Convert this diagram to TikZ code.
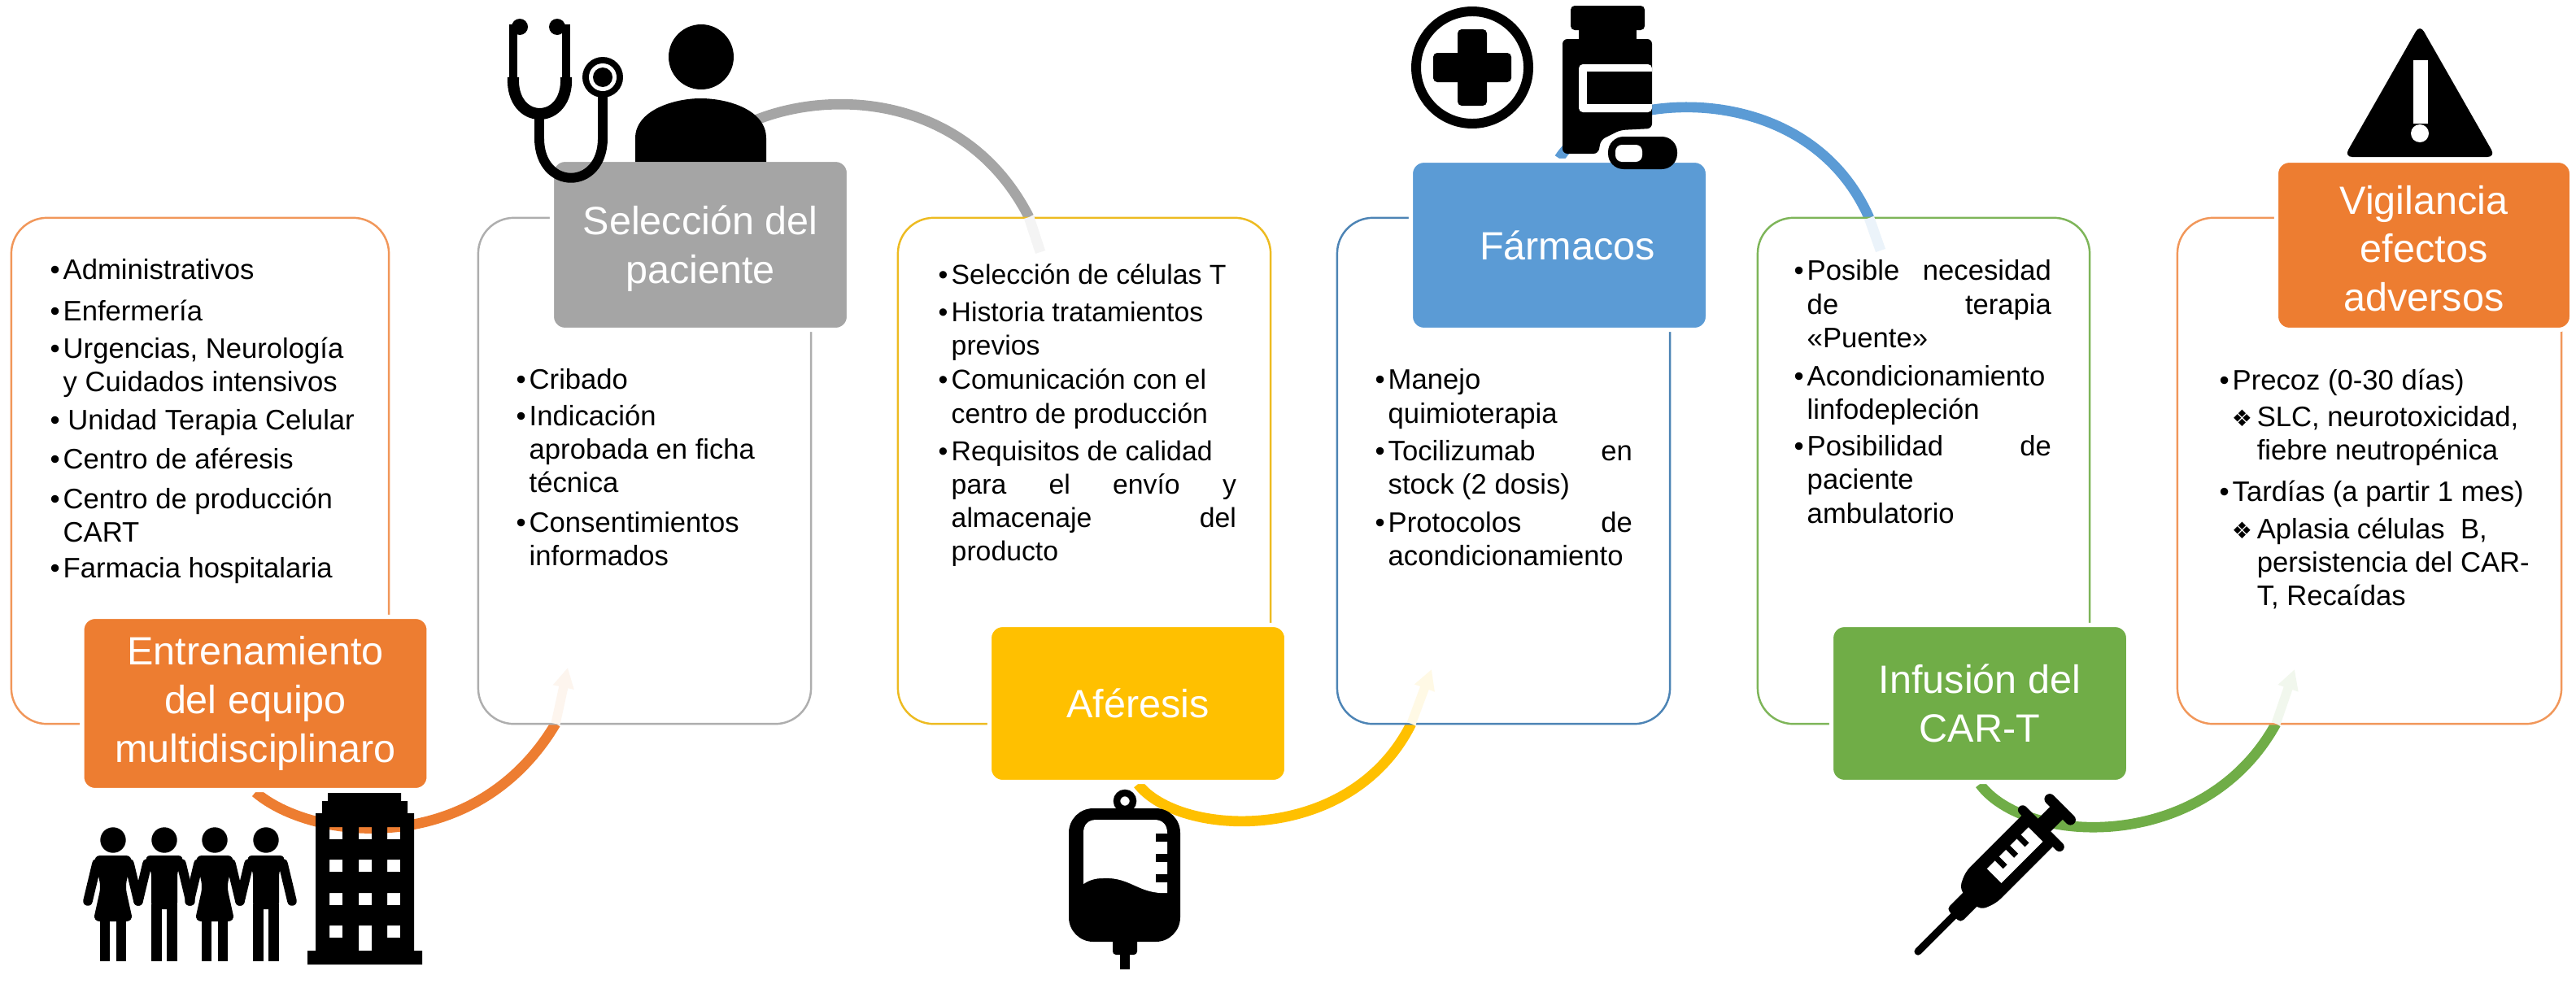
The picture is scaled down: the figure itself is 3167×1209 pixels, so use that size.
\documentclass[tikz,border=0pt]{standalone}
\usepackage{fontspec}
\setmainfont{Liberation Sans}
\newfontfamily\dejavu{DejaVu Sans}
\usetikzlibrary{arrows.meta,positioning,calc,backgrounds}
\definecolor{Orange}{HTML}{ED7D31}
\definecolor{Silver}{HTML}{A5A5A5}
\definecolor{Amber}{HTML}{FFC000}
\definecolor{Sky}{HTML}{5B9BD5}
\definecolor{Leaf}{HTML}{70AD47}
\newcommand{\bul}{\makebox[0.16cm][l]{\textbullet}}
\newcommand{\ind}{\hspace*{0.16cm}}
\newcommand{\dia}{\hspace*{0.15cm}\makebox[0.31cm][l]{\dejavu\fontsize{8}{8}\selectfont ❖}}
\newcommand{\dind}{\hspace*{0.46cm}}

\begin{document}
\begin{tikzpicture}[
  x=0.01cm, y=-0.01cm,
  card/.style={draw, rounded corners=0.44cm, line width=0.7pt, fill=white, inner sep=0pt,
               minimum height=6.22cm},
  head/.style={draw=white, line width=1.5pt, rounded corners=0.16cm, text=white, inner sep=0pt,
               minimum width=3.65cm, align=center, font=\fontsize{13.8}{17}\selectfont},
  items/.style={anchor=north west, inner sep=0pt, align=left, font=\fontsize{9.85}{11.75}\selectfont},
  arc/.style={line width=3.6pt},
  arctail/.style={line width=3.6pt},
  arctip/.style={-{Triangle[width=7pt,length=7pt]}, line width=3.2pt},
  icon/.style={black}
]
  \useasboundingbox (0,0) rectangle (3167,1209);

  \node[head, minimum width=4.26cm, minimum height=2.13cm, fill=Orange] (train) at (314,865)
    {Entrenamiento\\del equipo\\multidisciplinaro};
  \node[head, minimum height=2.09cm, fill=Silver] (select) at (861,301)
    {\rule{0pt}{13pt}Selección del\\paciente};
  \node[head, minimum height=1.93cm, fill=Amber] (apher) at (1399,865) {Aféresis};
  \node[head, minimum height=2.08cm, fill=Sky] (drugs) at (1917,301.5) {\hspace*{0.2cm}Fármacos};
  \node[head, minimum height=1.93cm, fill=Leaf] (infus) at (2434,865) {Infusión del\\CAR-T};
  \node[head, minimum width=3.63cm, minimum height=2.08cm, fill=Orange] (watch) at (2980,301.5)
    {\rule{0pt}{12.3pt}Vigilancia\\efectos\\adversos};

  \coordinate (edgeA) at (683,890);   \coordinate (tipA) at (698,821);
  \coordinate (edgeB) at (1265,267);  \coordinate (tipB) at (1279,310);
  \coordinate (edgeC) at (1735,890);  \coordinate (tipC) at (1760,823);
  \coordinate (edgeD) at (2298,268);  \coordinate (tipD) at (2312,308);
  \coordinate (edgeE) at (2798,890);  \coordinate (tipE) at (2821,823);

  \begin{scope}[on background layer]
    \draw[arc, Orange] (train.south) .. controls (385,1035) and (585,1055) .. (edgeA);
    \draw[arc, Silver] (select.north) .. controls (930,110) and (1170,80) .. (edgeB);
    \draw[arc, Amber] (apher.south) .. controls (1450,1030) and (1660,1040) .. (edgeC);
    \draw[arc, Sky] (drugs.north) .. controls (1970,110) and (2220,90) .. (edgeD);
    \draw[arc, Leaf] (infus.south) .. controls (2490,1040) and (2710,1050) .. (edgeE);

    \node[card, draw=Orange!80, minimum width=4.64cm] (trainbox) at (246,579) {};
    \node[card, draw=Silver!90, minimum width=4.09cm] (selectbox) at (792.5,579) {};
    \node[card, draw=Amber!80!Silver, minimum width=4.58cm] (apherbox) at (1333,579) {};
    \node[card, draw=Sky!85!black, minimum width=4.09cm] (drugsbox) at (1848.5,579) {};
    \node[card, draw=Leaf!90, minimum width=4.08cm] (infusbox) at (2365,579) {};
    \node[card, draw=Orange!80, minimum width=4.72cm] (watchbox) at (2913,579) {};

    \draw[arctip, Orange!8] (edgeA) -- (tipA);
    \draw[arctail, Silver!12] (edgeB) -- (tipB);
    \draw[arctip, Amber!10] (edgeC) -- (tipC);
    \draw[arctail, Sky!12] (edgeD) -- (tipD);
    \draw[arctip, Leaf!10] (edgeE) -- (tipE);
  \end{scope}

  \node[items] (trainlist) at (61,318) {\bul Administrativos\\[2.6pt]
    \bul Enfermería\\[1.3pt]
    \bul Urgencias, Neurología\\
    \ind y Cuidados intensivos\\[1.6pt]
    \bul \,Unidad Terapia Celular\\[1.8pt]
    \bul Centro de aféresis\\[2.2pt]
    \bul Centro de producción\\
    \ind CART\\[0.9pt]
    \bul Farmacia hospitalaria};
  \node[items] (selectlist) at (634,453) {\bul Cribado\\[0.9pt]
    \bul Indicación\\
    \ind aprobada en ficha\\
    \ind técnica\\[2.1pt]
    \bul Consentimientos\\
    \ind informados};
  \node[items, font=\fontsize{9.6}{11.75}\selectfont] (apherlist) at (1153,324) {\bul Selección de células T\\[1.3pt]
    \bul Historia tratamientos\\
    \ind previos\\[0.2pt]
    \bul Comunicación con el\\
    \ind centro de producción\\[1.3pt]
    \bul Requisitos de calidad\\
    \ind\makebox[3.5cm][s]{para el envío y}\\
    \ind\makebox[3.5cm][s]{almacenaje del}\\
    \ind producto};
  \node[items] (drugslist) at (1690,453) {\bul Manejo\\
    \ind quimioterapia\\[1.3pt]
    \bul\makebox[3cm][s]{Tocilizumab en}\\
    \ind stock (2 dosis)\\[1.6pt]
    \bul\makebox[3cm][s]{Protocolos de}\\
    \ind acondicionamiento};
  \node[items] (infuslist) at (2205,319) {\bul\makebox[3cm][s]{Posible necesidad}\\
    \ind\makebox[3cm][s]{de terapia}\\
    \ind «Puente»\\[1.6pt]
    \bul Acondicionamiento\\
    \ind linfodepleción\\[1pt]
    \bul\makebox[3cm][s]{Posibilidad de}\\
    \ind paciente\\
    \ind ambulatorio};
  \node[items] (watchlist) at (2728,453) {\bul Precoz (0-30 días)\\[1pt]
    \dia SLC, neurotoxicidad,\\
    \dind fiebre neutropénica\\[2.7pt]
    \bul Tardías (a partir 1 mes)\\[1.3pt]
    \dia Aplasia células\ \ B,\\
    \dind persistencia del CAR-\\
    \dind T, Recaídas};

  % people and building
  \foreach \cx in {139,264} {
    \begin{scope}[shift={(\cx,0)}, icon]
      \fill (0,1033) circle (15.7);
      \fill[rounded corners=0.08cm] (-24,1052) -- (24,1052) -- (15,1090) -- (24.5,1133) -- (-24.5,1133) -- (-15,1090) -- cycle;
      \fill (-16,1130) rectangle (-4,1182);
      \fill (4,1130) rectangle (16,1182);
      \draw[line width=3.3pt, line cap=round] (-20,1062) -- (-31,1108);
      \draw[line width=3.3pt, line cap=round] (20,1062) -- (31,1108);
    \end{scope}
  }
  \foreach \cx in {202,327} {
    \begin{scope}[shift={(\cx,0)}, icon]
      \fill (0,1033) circle (15.7);
      \fill[rounded corners=0.08cm] (-25,1052) -- (25,1052) -- (16,1070) -- (16,1118) -- (-16,1118) -- (-16,1070) -- cycle;
      \fill (-16,1112) rectangle (-3,1182);
      \fill (3,1112) rectangle (16,1182);
      \draw[line width=3.3pt, line cap=round] (-21,1062) -- (-32,1108);
      \draw[line width=3.3pt, line cap=round] (21,1062) -- (32,1108);
    \end{scope}
  }
  \fill[icon, even odd rule] (378,1186) -- (378,1169) -- (388,1169) -- (388,1000) -- (396,1000) -- (396,985)
    -- (403,985) -- (403,975) -- (493,975) -- (493,985) -- (501,985) -- (501,1000) -- (509,1000)
    -- (509,1169) -- (519,1169) -- (519,1186) -- cycle
    \foreach \wx in {405,441,476} {
      \foreach \wy in {1017,1057,1098} { (\wx,\wy) rectangle ++(16,15) }
    }
    (405,1138) rectangle ++(16,15) (441,1138) rectangle ++(16,31) (476,1138) rectangle ++(16,15);

  % stethoscope and patient
  \fill[icon] (639,33) circle (10);
  \fill[icon] (685,33) circle (10);
  \draw[icon, line width=2.8pt] (631,30) -- (631,100);
  \draw[icon, line width=2.8pt] (696,30) -- (696,100);
  \draw[icon, line width=4pt] (631,95) .. controls (628,155) and (699,155) .. (696,95);
  \draw[icon, line width=3.4pt] (663,138) -- (663,170) .. controls (663,235) and (741,235) .. (741,170) -- (741,115);
  \fill[icon] (741,95) circle (25);
  \fill[white] (741,95) circle (17);
  \fill[icon] (741,95) circle (12);
  \fill[icon] (862,70) circle (40);
  \fill[icon] (781,199) -- (781,170) .. controls (781,135) and (830,121) .. (861,121)
    .. controls (895,121) and (942,135) .. (942,170) -- (942,199) -- cycle;

  % blood bag
  \draw[icon, line width=2.4pt] (1383,985) circle (10);
  \fill[icon, rounded corners=0.3cm] (1314,994) rectangle (1451,1158);
  \fill[white] (1332,1087) -- (1332,1024) .. controls (1332,1014) and (1338,1008) .. (1348,1008) -- (1419,1008)
    .. controls (1429,1008) and (1435,1014) .. (1435,1024) -- (1435,1098)
    .. controls (1400,1100) and (1390,1078) .. (1356,1080) .. controls (1345,1080) and (1338,1083) .. (1332,1087) -- cycle;
  \foreach \ty in {1025,1050,1075} { \fill[icon] (1421,\ty) rectangle (1436,\ty+10); }
  \fill[icon, rounded corners=0.04cm] (1368,1150) rectangle (1398,1174);
  \fill[icon] (1377,1170) rectangle (1389,1192);

  % plus sign and medicine bottle
  \draw[icon, line width=3.4pt] (1810,83) circle (69);
  \fill[icon, rounded corners=0.05cm] (1792,36) rectangle (1828,130);
  \fill[icon, rounded corners=0.05cm] (1762,65) rectangle (1858,101);
  \fill[icon, rounded corners=0.05cm] (1931,7) rectangle (2022,37);
  \fill[icon] (1941,35) rectangle (2012,50);
  \fill[icon, rounded corners=0.06cm] (1921,189) -- (1921,48) -- (2031,48) -- (2031,158) -- (1992,160) -- (1968,172) -- (1965,189) -- cycle;
  \fill[white, rounded corners=0.05cm] (2031,79) -- (1941,79) -- (1941,138) -- (2031,138) -- cycle;
  \fill[icon] (1951,88) rectangle (2031,128);
  \fill[icon, rounded corners=0.19cm] (1977,168) rectangle (2062,208);
  \fill[white, rounded corners=0.08cm] (2019,178) -- (1986,178) -- (1986,199) -- (2019,199) -- cycle;

  % syringe
  \begin{scope}[shift={(2358,1170)}, rotate=45, icon]
    \draw[line width=2.6pt, line cap=round] (0,0) -- (70,0);
    \fill[rounded corners=0.05cm] (62,-12) rectangle (100,12);
    \fill[rounded corners=0.08cm] (90,-18) -- (110,-28) -- (216,-28) -- (216,26) -- (110,26) -- (90,18) -- cycle;
    \draw[line width=3.3pt, line cap=round] (214,-32) -- (214,32);
    \fill (214,-11) rectangle (247,11);
    \draw[line width=3.7pt, line cap=round] (247,-18) -- (247,18);
    \fill[white] (132,-12) rectangle (204,13);
    \foreach \tx in {146,165,184} { \fill[icon] (\tx,-13) rectangle (\tx+7,2); }
  \end{scope}

  % warning sign
  \fill[icon, rounded corners=0.1cm] (2975,30) -- (3068,193) -- (2882,193) -- cycle;
  \fill[white] (2967,74) rectangle (2985,152);
  \fill[white] (2975,164) circle (11);
\end{tikzpicture}
\end{document}
